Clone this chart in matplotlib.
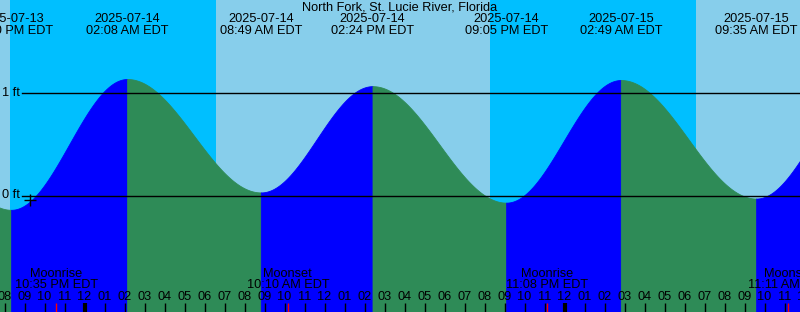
import numpy as np
import pandas as pd
import matplotlib
matplotlib.use("Agg")
import matplotlib.pyplot as plt
import matplotlib.transforms as mtransforms

plt.rcParams['font.family'] = ['Liberation Sans', 'DejaVu Sans']
plt.rcParams['font.size'] = 9.2

title = "North Fork, St. Lucie River, Florida"

# high / low tides (first and last are off-screen, only used for the curve shape)
tide_times = ["2025-07-13 13:40", "2025-07-13 20:20", "2025-07-14 02:08",
              "2025-07-14 08:49", "2025-07-14 14:24", "2025-07-14 21:05",
              "2025-07-15 02:49", "2025-07-15 09:35", "2025-07-15 15:10"]
tide_levels = [1.07, -0.14, 1.14, 0.03, 1.07, -0.07, 1.13, -0.03, 1.08]

sunset_1 = "2025-07-13 20:16"
sunrise_1 = "2025-07-14 06:35"
sunset_2 = "2025-07-14 20:16"
sunrise_2 = "2025-07-15 06:35"

moon_times = ["2025-07-13 22:35", "2025-07-14 10:10", "2025-07-14 23:08", "2025-07-15 11:11"]
moon_kinds = ["Moonrise", "Moonset", "Moonrise", "Moonset"]

mark_time = "2025-07-13 21:16"
mark_level = -0.04

ft_lines = [0, 1]

t0 = pd.Timestamp("2025-07-14 00:00")


def hrs(s):
    return (pd.Timestamp(s) - t0).total_seconds() / 3600


W, H = 800, 312
fig = plt.figure(figsize=(8, 3.12), dpi=100)
ax = fig.add_axes([0, 0, 1, 1])
ax.axis('off')

x0, x1 = -84.5 / 20, (W - 84.5) / 20
y0, y1 = -(H - 195.5) / 102.2, 195.5 / 102.2
ax.set_xlim(x0, x1)
ax.set_ylim(y0, y1)

trans = mtransforms.blended_transform_factory(ax.transData, ax.transAxes)


def py(p):
    return 1 - p / H


# day / night background
day_c, night_c = "#87CEEB", "#00BFFF"
edges = [x0, hrs(sunset_1), hrs(sunrise_1), hrs(sunset_2), hrs(sunrise_2), x1]
for i in range(len(edges) - 1):
    ax.axvspan(edges[i], edges[i + 1], color=day_c if i % 2 == 0 else night_c, lw=0, zorder=0)

# tide curve, blue while rising, green while falling
th = [hrs(t) for t in tide_times]
for i in range(len(th) - 1):
    a, b = th[i], th[i + 1]
    h0, h1 = tide_levels[i], tide_levels[i + 1]
    tt = np.linspace(a, b, 120)
    lev = h0 + (h1 - h0) * (1 - np.cos(np.pi * (tt - a) / (b - a))) / 2
    c = "#0000FF" if h1 > h0 else "#2E8B57"
    ax.fill_between(tt, y0, lev, color=c, lw=0.6, edgecolor=c, zorder=1)

# foot lines
for f in ft_lines:
    ax.axhline(f, xmin=22 / W, color="black", lw=1, zorder=2)
    ax.text(20 / W, f, f"{f} ft", transform=mtransforms.blended_transform_factory(ax.transAxes, ax.transData),
            ha="right", va="center", zorder=3)

ax.plot([hrs(mark_time)], [mark_level], marker="+", color="black", ms=8, mew=1, zorder=3)

# title and tide labels
ax.text(0.5, py(7.5), title, transform=ax.transAxes, ha="center", va="center", zorder=3)
for t in tide_times[1:-1]:
    ts = pd.Timestamp(t)
    ax.text(hrs(t), py(19.5), ts.strftime("%Y-%m-%d"), transform=trans, ha="center", va="center", zorder=3)
    ax.text(hrs(t), py(31.5), ts.strftime("%I:%M %p EDT"), transform=trans, ha="center", va="center", zorder=3)

# hour ticks
for h in range(int(np.floor(x0)), int(np.ceil(x1)) + 1):
    ts = t0 + pd.Timedelta(hours=h)
    ax.vlines(h, 0, py(303), transform=trans, color="black", lw=3 if ts.hour == 0 else 1, zorder=3)
    ax.text(h, py(297), ts.strftime("%I"), transform=trans, ha="center", va="center", zorder=3)

# moon events
for t, k in zip(moon_times, moon_kinds):
    ts = pd.Timestamp(t)
    ax.vlines(hrs(t), 0, py(303), transform=trans, color="red", lw=1, zorder=4)
    ax.text(hrs(t), py(274), k, transform=trans, ha="center", va="center", zorder=3)
    ax.text(hrs(t), py(285), ts.strftime("%I:%M %p EDT"), transform=trans, ha="center", va="center", zorder=3)

fig.savefig("out.png", dpi=100)
